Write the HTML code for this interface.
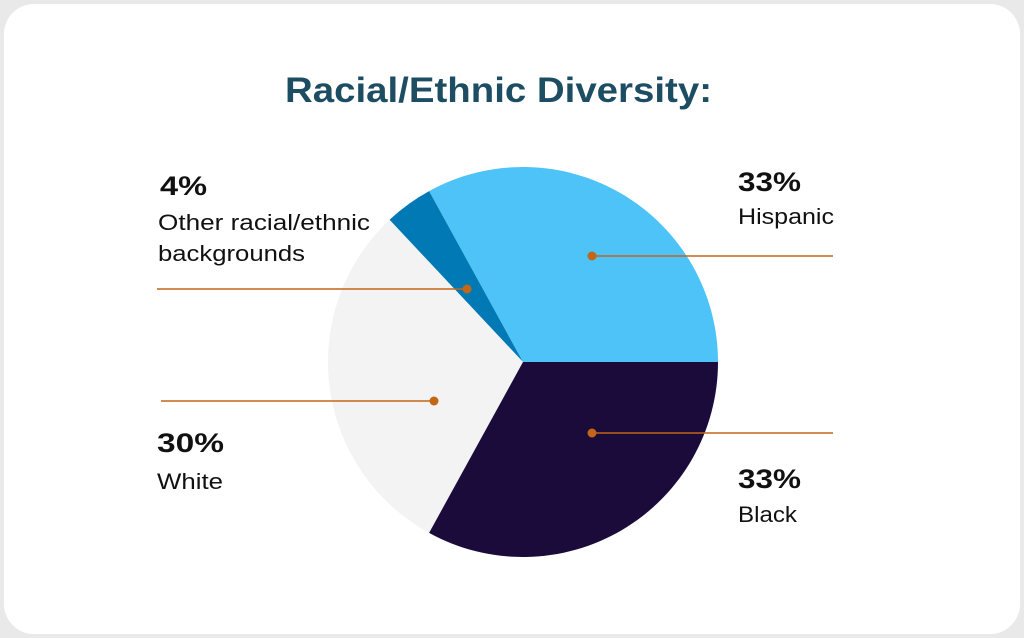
<!DOCTYPE html>
<html><head><meta charset="utf-8"><style>
html,body{margin:0;padding:0;background:#e9e9e9;width:1024px;height:638px;overflow:hidden}
</style></head><body>
<svg width="1024" height="638" xmlns="http://www.w3.org/2000/svg" font-family="Liberation Sans, sans-serif">
<rect x="0" y="0" width="1024" height="638" fill="#e9e9e9"/>
<rect x="4" y="4" width="1016" height="630" rx="30" fill="#ffffff"/>
<text x="285" y="102" textLength="427" lengthAdjust="spacingAndGlyphs" font-size="35" font-weight="bold" fill="#1d4d63">Racial/Ethnic Diversity:</text>
<path d="M523,362 L718,362 A195,195 0 0 0 429.1,191.1 Z" fill="#4dc3f8"/>
<path d="M523,362 L429.1,191.1 A195,195 0 0 0 389.5,219.8 Z" fill="#0179b4"/>
<path d="M523,362 L389.5,219.8 A195,195 0 0 0 429.1,532.9 Z" fill="#f4f3f4"/>
<path d="M523,362 L429.1,532.9 A195,195 0 0 0 718,362 Z" fill="#1a0b3b"/>
<g stroke="#c26618" stroke-width="1.6">
<line x1="592" y1="256" x2="833" y2="256"/>
<line x1="592" y1="433" x2="833" y2="433"/>
<line x1="157" y1="289" x2="467" y2="289"/>
<line x1="161" y1="401" x2="434" y2="401"/>
</g>
<g fill="#c26618">
<circle cx="592" cy="256" r="4.5"/><circle cx="592" cy="433" r="4.5"/>
<circle cx="467" cy="289" r="4.5"/><circle cx="434" cy="401" r="4.5"/>
</g>
<g fill="#111" lengthAdjust="spacingAndGlyphs">
<text x="160" y="195" font-size="27" font-weight="bold" textLength="47" lengthAdjust="spacingAndGlyphs">4%</text>
<text x="158" y="230" font-size="22" textLength="212" lengthAdjust="spacingAndGlyphs">Other racial/ethnic</text>
<text x="158" y="261" font-size="22" textLength="147" lengthAdjust="spacingAndGlyphs">backgrounds</text>
<text x="738" y="191" font-size="27" font-weight="bold" textLength="63" lengthAdjust="spacingAndGlyphs">33%</text>
<text x="738" y="224" font-size="22" textLength="96" lengthAdjust="spacingAndGlyphs">Hispanic</text>
<text x="157" y="452" font-size="27" font-weight="bold" textLength="67" lengthAdjust="spacingAndGlyphs">30%</text>
<text x="157" y="489" font-size="22" textLength="66" lengthAdjust="spacingAndGlyphs">White</text>
<text x="738" y="488" font-size="27" font-weight="bold" textLength="63" lengthAdjust="spacingAndGlyphs">33%</text>
<text x="738" y="522" font-size="22" textLength="59" lengthAdjust="spacingAndGlyphs">Black</text>
</g>
</svg>
</body></html>
